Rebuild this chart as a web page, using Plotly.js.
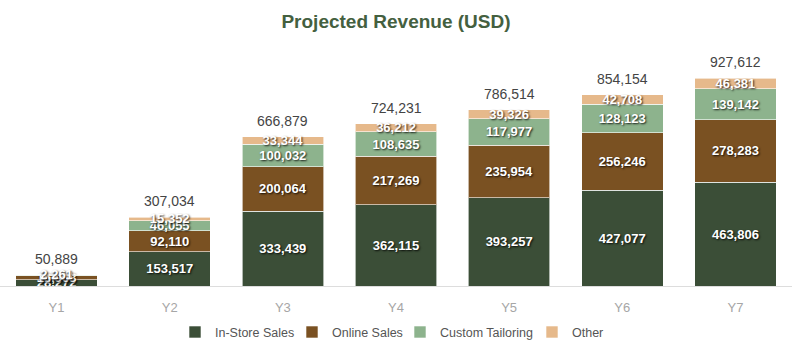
<!DOCTYPE html>
<html>
<head>
<meta charset="utf-8">
<script src="https://cdn.plot.ly/plotly-3.0.1.min.js"></script>
<style>html,body{margin:0;padding:0;background:#fff;}#chart{width:792px;height:351px;}</style>
</head>
<body>
<div id="chart"></div>
<script>
const years = ["Y1", "Y2", "Y3", "Y4", "Y5", "Y6", "Y7"];
const inStore = [28272, 153517, 333439, 362115, 393257, 427077, 463806];
const online = [16963, 92110, 200064, 217269, 235954, 256246, 278283];
const custom = [3393, 46055, 100032, 108635, 117977, 128123, 139142];
const other = [2261, 15352, 33344, 36212, 39326, 42708, 46381];
const totals = [50889, 307034, 666879, 724231, 786514, 854154, 927612];

const seriesNames = ["In-Store Sales", "Online Sales", "Custom Tailoring", "Other"];
const seriesColors = ["#3b4e37", "#7a5122", "#8db38d", "#e6b98b"];
const seriesValues = [inStore, online, custom, other];
const legendWidths = [72, 63, 87, 40];

const FONT = "Liberation Sans, Arial, sans-serif";

const traces = seriesValues.map((vals, i) => ({
  type: "bar",
  name: seriesNames[i],
  x: years,
  y: vals,
  legendwidth: legendWidths[i],
  marker: { color: seriesColors[i], line: { color: "rgba(255,255,255,0.6)", width: 1 } },
  texttemplate: "%{y:,}",
  textposition: "inside",
  insidetextanchor: "middle",
  textangle: 0,
  textfont: { family: FONT, size: 13, color: "#ffffff", weight: "bold", shadow: "1px 1px 2px rgba(0,0,0,0.85)" },
  hoverinfo: "skip"
}));

const annotations = years.map((yr, i) => ({
  x: yr,
  y: totals[i],
  xref: "x",
  yref: "y",
  text: totals[i].toLocaleString("en-US"),
  showarrow: false,
  yanchor: "bottom",
  yshift: 6,
  font: { family: FONT, size: 14, color: "#444444" }
}));

const layout = {
  width: 792,
  height: 351,
  barmode: "stack",
  bargap: 0.28,
  margin: { l: 0, r: 0, t: 62, b: 65 },
  paper_bgcolor: "#ffffff",
  plot_bgcolor: "#ffffff",
  title: {
    text: "Projected Revenue (USD)",
    x: 0.5, xanchor: "center",
    y: 0.94, yanchor: "middle",
    font: { family: FONT, size: 19, color: "#44603f", weight: "bold" }
  },
  xaxis: {
    showline: true, linecolor: "#dddddd", linewidth: 1,
    showgrid: false, ticks: "",
    ticklabelstandoff: 9,
    tickfont: { family: FONT, size: 13, color: "#a6a6a6" }
  },
  yaxis: { visible: false, range: [0, 1000000], showgrid: false, zeroline: false },
  uniformtext: { minsize: 13, mode: "show" },
  annotations: annotations,
  legend: {
    orientation: "h", x: 0.5, xanchor: "center", y: -0.14, yanchor: "top",
    font: { family: FONT, size: 12.5, color: "#555555" },
    traceorder: "normal"
  },
  showlegend: true
};

Plotly.newPlot("chart", traces, layout, { displayModeBar: false, staticPlot: true });
</script>
</body>
</html>
